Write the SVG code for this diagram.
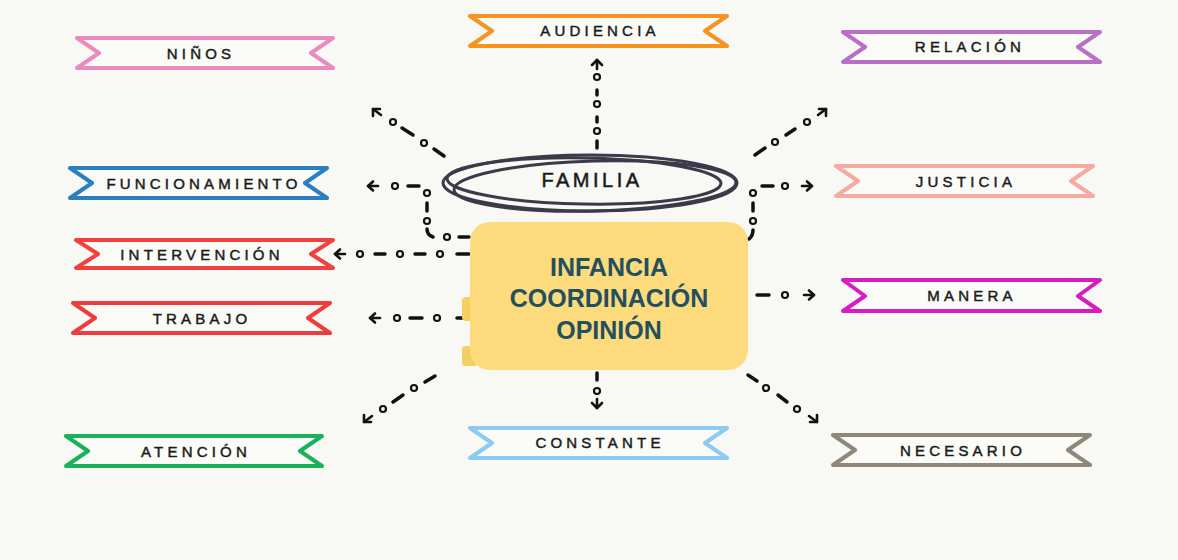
<svg xmlns="http://www.w3.org/2000/svg" width="1178" height="560" viewBox="0 0 1178 560">
<style>
.bn{fill:#fbfbf8;stroke-width:4;stroke-linejoin:round}
.bt{font-family:"Liberation Sans",Arial,sans-serif;font-size:15px;letter-spacing:4.2px;fill:#1a1a1a;stroke:#1a1a1a;stroke-width:0.45;text-anchor:middle;dominant-baseline:central}
.d{stroke:#111;stroke-width:3.5;stroke-linecap:round;fill:none}
.o{fill:none;stroke:#111;stroke-width:2.2}
.a{stroke:#111;stroke-width:2.6;stroke-linecap:round;stroke-linejoin:round;fill:none}
.ct{font-family:"Liberation Sans",Arial,sans-serif;font-weight:bold;font-size:25px;fill:#234f5e;text-anchor:middle}
.el{fill:none;stroke:#3c3a48;stroke-width:3}
</style>
<rect width="1178" height="560" fill="#f8f8f4"/>

<g id="connectors">
  <!-- up to AUDIENCIA -->
  <line class="d" x1="597" y1="141" x2="597" y2="148"/>
  <circle class="o" cx="597" cy="131" r="3"/>
  <line class="d" x1="597" y1="117" x2="597" y2="122"/>
  <circle class="o" cx="597" cy="104" r="3"/>
  <line class="d" x1="597" y1="90" x2="597" y2="95"/>
  <circle class="o" cx="597" cy="77" r="3"/>
  <line class="a" x1="597" y1="60" x2="597" y2="69"/>
  <polyline class="a" points="592,65 597,60 602,65"/>

  <!-- upper left diagonal -->
  <line class="d" x1="434" y1="149" x2="444" y2="156"/>
  <circle class="o" cx="424" cy="143" r="3"/>
  <line class="d" x1="402" y1="128" x2="413" y2="135"/>
  <circle class="o" cx="393" cy="122" r="3"/>
  <line class="a" x1="373" y1="109" x2="381" y2="115"/>
  <polyline class="a" points="380,109 373,109 373,116"/>

  <!-- elbow to FUNCIONAMIENTO -->
  <line class="d" x1="459" y1="237" x2="469" y2="237"/>
  <circle class="o" cx="447" cy="237" r="3"/>
  <path class="d" d="M427,229 Q427,235 433,237"/>
  <circle class="o" cx="427" cy="221" r="3"/>
  <line class="d" x1="427" y1="203" x2="427" y2="211"/>
  <circle class="o" cx="427" cy="193" r="3"/>
  <line class="d" x1="408" y1="186" x2="419" y2="186"/>
  <circle class="o" cx="395" cy="186" r="3"/>
  <line class="a" x1="368" y1="186" x2="378" y2="186"/>
  <polyline class="a" points="373,181.5 368,186 373,190.5"/>

  <!-- to INTERVENCION -->
  <line class="d" x1="457" y1="254" x2="469" y2="254"/>
  <circle class="o" cx="440" cy="254" r="3"/>
  <line class="d" x1="415" y1="254" x2="425" y2="254"/>
  <circle class="o" cx="400" cy="254" r="3"/>
  <line class="d" x1="375" y1="254" x2="385" y2="254"/>
  <circle class="o" cx="360" cy="254" r="3"/>
  <line class="a" x1="335" y1="254" x2="345" y2="254"/>
  <polyline class="a" points="340,249.5 335,254 340,258.5"/>

  <!-- to TRABAJO -->
  <line class="d" x1="457" y1="318" x2="469" y2="318"/>
  <circle class="o" cx="437" cy="318" r="3"/>
  <line class="d" x1="410" y1="318" x2="422" y2="318"/>
  <circle class="o" cx="397" cy="318" r="3"/>
  <line class="a" x1="370" y1="318" x2="380" y2="318"/>
  <polyline class="a" points="375,313.5 370,318 375,322.5"/>

  <!-- lower left diagonal -->
  <line class="d" x1="425" y1="382" x2="435" y2="376"/>
  <circle class="o" cx="414" cy="388" r="3"/>
  <line class="d" x1="393" y1="402" x2="403" y2="395"/>
  <circle class="o" cx="383" cy="409" r="3"/>
  <line class="a" x1="364" y1="422" x2="372" y2="416"/>
  <polyline class="a" points="364,415 364,422 371,422"/>

  <!-- down to CONSTANTE -->
  <line class="d" x1="597" y1="373" x2="597" y2="380"/>
  <circle class="o" cx="597" cy="391" r="3"/>
  <line class="a" x1="597" y1="399" x2="597" y2="408"/>
  <polyline class="a" points="592,403 597,408 602,403"/>

  <!-- lower right diagonal -->
  <line class="d" x1="748" y1="375" x2="757" y2="381"/>
  <circle class="o" cx="766" cy="388" r="3"/>
  <line class="d" x1="778" y1="395" x2="787" y2="402"/>
  <circle class="o" cx="797" cy="409" r="3"/>
  <line class="a" x1="809" y1="416" x2="817" y2="422"/>
  <polyline class="a" points="810,422 817,422 817,415"/>

  <!-- to MANERA -->
  <line class="d" x1="757" y1="295" x2="769" y2="295"/>
  <circle class="o" cx="785" cy="295" r="3"/>
  <line class="a" x1="804" y1="295" x2="814" y2="295"/>
  <polyline class="a" points="809,290.5 814,295 809,299.5"/>

  <!-- elbow to JUSTICIA -->
  <path class="d" d="M749,239 Q753,236 753,230"/>
  <circle class="o" cx="753" cy="221" r="3"/>
  <line class="d" x1="753" y1="203" x2="753" y2="211"/>
  <circle class="o" cx="753" cy="193" r="3"/>
  <line class="d" x1="762" y1="186" x2="773" y2="186"/>
  <circle class="o" cx="785" cy="186" r="3"/>
  <line class="a" x1="802" y1="186" x2="812" y2="186"/>
  <polyline class="a" points="807,181.5 812,186 807,190.5"/>

  <!-- upper right diagonal -->
  <line class="d" x1="755" y1="155" x2="765" y2="148"/>
  <circle class="o" cx="775" cy="142" r="3"/>
  <line class="d" x1="786" y1="135" x2="795" y2="129"/>
  <circle class="o" cx="807" cy="122" r="3"/>
  <line class="a" x1="818" y1="115" x2="826" y2="109"/>
  <polyline class="a" points="819,109 826,109 826,116"/>
</g>

<g id="familia">
  <ellipse class="el" cx="590" cy="183" rx="147" ry="28"/>
  <ellipse class="el" cx="595" cy="186" rx="141" ry="25" transform="rotate(-1.5 595 186)"/>
  <ellipse class="el" cx="584" cy="181" rx="137" ry="23" transform="rotate(1 584 181)"/>
  <text x="592" y="180" style="font-family:'Liberation Sans',Arial,sans-serif;font-size:20px;letter-spacing:3.5px;fill:#1a1a1a;stroke:#1a1a1a;stroke-width:0.5;text-anchor:middle;dominant-baseline:central">FAMILIA</text>
</g>

<g id="center">
  <rect x="462" y="297" width="16" height="24" rx="4" fill="#f6cf62"/>
  <rect x="462" y="346" width="16" height="20" rx="4" fill="#f6cf62"/>
  <rect x="470" y="222" width="278" height="148" rx="20" fill="#fedb7d"/>
  <text class="ct" x="609" y="276">INFANCIA</text>
  <text class="ct" x="609" y="307">COORDINACIÓN</text>
  <text class="ct" x="609" y="339">OPINIÓN</text>
</g>

<g id="ninos">
  <path class="bn" stroke="#e98bbf" d="M77,38 H333 L311,53 L333,68 H77 L99,53 Z"/>
  <text class="bt" x="201" y="53">NIÑOS</text>
</g>
<g id="audiencia">
  <path class="bn" stroke="#f7931e" d="M470,16 H727 L705,31 L727,46 H470 L492,31 Z"/>
  <text class="bt" x="600" y="30">AUDIENCIA</text>
</g>
<g id="relacion">
  <path class="bn" stroke="#b96fc6" d="M843,32 H1100 L1078,47 L1100,62 H843 L865,47 Z"/>
  <text class="bt" x="970" y="46">RELACIÓN</text>
</g>
<g id="funcionamiento">
  <path class="bn" stroke="#2a7fc0" d="M70,168 H327 L305,183 L327,198 H70 L92,183 Z"/>
  <text class="bt" x="204" y="183">FUNCIONAMIENTO</text>
</g>
<g id="justicia">
  <path class="bn" stroke="#f6aba1" d="M836,166 H1093 L1071,181 L1093,196 H836 L858,181 Z"/>
  <text class="bt" x="966" y="181">JUSTICIA</text>
</g>
<g id="intervencion">
  <path class="bn" stroke="#f2403f" d="M76,240 H333 L311,254 L333,268 H76 L98,254 Z"/>
  <text class="bt" x="202" y="254">INTERVENCIÓN</text>
</g>
<g id="trabajo">
  <path class="bn" stroke="#f03c3c" d="M73,303 H330 L308,318 L330,333 H73 L95,318 Z"/>
  <text class="bt" x="202" y="318">TRABAJO</text>
</g>
<g id="manera">
  <path class="bn" stroke="#d81bc2" d="M843,280 H1100 L1078,296 L1100,311 H843 L865,296 Z"/>
  <text class="bt" x="972" y="295">MANERA</text>
</g>
<g id="atencion">
  <path class="bn" stroke="#19b25a" d="M66,436 H322 L300,451 L322,466 H66 L88,451 Z"/>
  <text class="bt" x="196" y="451">ATENCIÓN</text>
</g>
<g id="constante">
  <path class="bn" stroke="#8ccaf0" d="M470,428 H727 L705,443 L727,458 H470 L492,443 Z"/>
  <text class="bt" x="600" y="442">CONSTANTE</text>
</g>
<g id="necesario">
  <path class="bn" stroke="#8f887a" d="M833,435 H1090 L1068,450 L1090,465 H833 L855,450 Z"/>
  <text class="bt" x="963" y="450">NECESARIO</text>
</g>
</svg>
